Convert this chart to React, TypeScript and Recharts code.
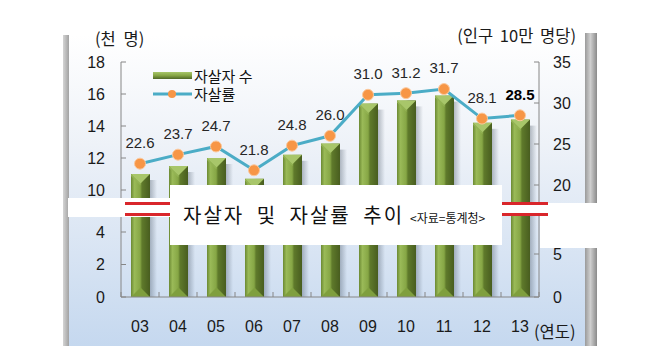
import React from 'react';
import { ComposedChart, Bar, Line, XAxis, YAxis, LabelList, Legend } from 'recharts';

// 자살자 및 자살률 추이 (2003~2013)
const years = ['03', '04', '05', '06', '07', '08', '09', '10', '11', '12', '13'];
const suicides = [11.0, 11.5, 12.0, 10.7, 12.2, 12.9, 15.4, 15.6, 15.9, 14.2, 14.4]; // 천 명
const rates = [22.6, 23.7, 24.7, 21.8, 24.8, 26.0, 31.0, 31.2, 31.7, 28.1, 28.5]; // 인구 10만 명당
const leftTicks = [0, 2, 4, 10, 12, 14, 16, 18];
const rightTicks = [0, 5, 20, 25, 30, 35];

const W = 671;
const H = 357;
const NUM_FONT = '"Liberation Sans", Arial, sans-serif';
const KR_FONT = '"Noto Sans CJK KR", "Noto Sans", sans-serif';
const AXIS = '#868686';
const RED = '#d9262b';

// both y axes are broken: the low part and the high part share one 0..235 range
const makeBreak = (low: number, lowH: number, high: number, highH: number, max: number, maxH: number) =>
  (v: number) => (v <= low ? (v / low) * lowH : highH + ((v - high) / (max - high)) * (maxH - highH));

const leftMap = makeBreak(4, 65, 10, 107, 18, 235);
const rightMap = makeBreak(5, 43, 20, 112, 35, 235);

const rows = years.map((year, i) => ({
  year,
  count: suicides[i],
  rate: rates[i],
  countY: leftMap(suicides[i]),
  rateY: rightMap(rates[i]),
}));

const tickText = (list: number[], map: (v: number) => number, value: number) =>
  list.find((t) => Math.abs(map(t) - value) < 0.01);

const LEFT_MARGIN = 16;
const RIGHT_MARGIN = 14;
const X_MARGIN = 29;
const HALF_BAND = (W - 121 - 132) / years.length / 2;

function LeftTick({ x, y, payload }: any) {
  return (
    <g>
      <line x1={x + LEFT_MARGIN} x2={x + LEFT_MARGIN + 5} y1={y} y2={y} stroke={AXIS} />
      <text x={x} y={y} dy="0.36em" textAnchor="end" fontSize={16} fontFamily={NUM_FONT} fill="#1a1a1a">
        {tickText(leftTicks, leftMap, payload.value)}
      </text>
    </g>
  );
}

function RightTick({ x, y, payload }: any) {
  return (
    <g>
      <line x1={x - RIGHT_MARGIN} x2={x - RIGHT_MARGIN - 5} y1={y} y2={y} stroke={AXIS} />
      <text x={x} y={y} dy="0.36em" textAnchor="start" fontSize={16} fontFamily={NUM_FONT} fill="#1a1a1a">
        {tickText(rightTicks, rightMap, payload.value)}
      </text>
    </g>
  );
}

function YearTick({ x, y, payload, index }: any) {
  const base = y - X_MARGIN;
  return (
    <g>
      <line x1={x - HALF_BAND} x2={x - HALF_BAND} y1={base} y2={base - 5} stroke={AXIS} />
      {index === years.length - 1 && (
        <line x1={x + HALF_BAND} x2={x + HALF_BAND} y1={base} y2={base - 5} stroke={AXIS} />
      )}
      <text x={x} y={y} dy="0.36em" textAnchor="middle" fontSize={16} fontFamily={NUM_FONT} fill="#1a1a1a">
        {payload.value}
      </text>
    </g>
  );
}

function CylinderBar({ x, y, width, height }: any) {
  if (!height || height <= 0) return null;
  const v = Math.min(width / 2, 10);
  return (
    <g>
      <rect x={x + width} y={y + 6} width={7} height={height - 6} fill="url(#barShadow)" />
      <rect x={x} y={y} width={width} height={height} fill="url(#barBody)" />
      <polygon points={`${x},${y} ${x + width},${y} ${x + width / 2},${y + v}`} fill="#a8c66a" />
      <polygon points={`${x},${y} ${x + width / 2},${y + v} ${x + width / 2},${y + v + 2} ${x},${y + 2}`} fill="#93b354" />
      <polygon
        points={`${x},${y + height} ${x + width / 2},${y + height - v} ${x + width},${y + height}`}
        fill="#7f9f3e"
      />
    </g>
  );
}

function RateLabel({ x, y, value, index }: any) {
  const last = index === rates.length - 1;
  return (
    <text
      x={x}
      y={y - 21}
      dy="0.36em"
      textAnchor="middle"
      fontSize={15}
      fontFamily={NUM_FONT}
      fontWeight={last ? 'bold' : 'normal'}
      fill={last ? '#000' : '#262626'}
    >
      {Number(value).toFixed(1)}
    </text>
  );
}

function LegendBox() {
  const row: React.CSSProperties = { display: 'flex', alignItems: 'center', height: 18 };
  const label: React.CSSProperties = { display: 'inline-block', height: 16, lineHeight: '16px', overflow: 'visible' };
  return (
    <div style={{ fontFamily: KR_FONT, fontSize: 15, color: '#111' }}>
      <div style={row}>
        <svg width={42} height={12}>
          <defs>
            <linearGradient id="legendBar" x1="0" y1="0" x2="0" y2="1">
              <stop offset="0%" stopColor="#a8c66a" />
              <stop offset="50%" stopColor="#86a544" />
              <stop offset="100%" stopColor="#4f6626" />
            </linearGradient>
          </defs>
          <rect x={1} y={2} width={39} height={7} fill="url(#legendBar)" />
        </svg>
        <span style={label}>자살자 수</span>
      </div>
      <div style={row}>
        <svg width={42} height={12}>
          <line x1={1} x2={40} y1={6} y2={6} stroke="#4bacc6" strokeWidth={3} />
          <circle cx={20} cy={6} r={4} fill="#f79646" />
        </svg>
        <span style={label}>자살률</span>
      </div>
    </div>
  );
}

const abs = (left: number, top: number, width: number, height: number, extra: React.CSSProperties = {}) =>
  ({ position: 'absolute', left, top, width, height, ...extra }) as React.CSSProperties;

export default function App() {
  return (
    <div style={{ position: 'absolute', left: 0, top: 0, width: W, height: H, background: '#fff', overflow: 'hidden' }}>
      {/* panel */}
      <div style={abs(69, 35, 516, 311, { background: 'linear-gradient(180deg, #ffffff 0%, #eef2f8 35%, #c5d8ef 100%)' })} />
      <div style={abs(63, 35, 6, 311, { background: 'linear-gradient(90deg, #d4d4d4, #a2a2a2)' })} />
      <div style={abs(585, 33, 12, 313, { background: 'linear-gradient(90deg, #9a9a9a, #cfcfcf 45%, #8a8a8a)' })} />

      <div style={abs(0, 0, W, H)}>
        <ComposedChart width={W} height={H} data={rows} margin={{ top: 62, right: 82, bottom: 30, left: 71 }}>
          <defs>
            <linearGradient id="barBody" x1="0" y1="0" x2="1" y2="0">
              <stop offset="0%" stopColor="#6b8933" />
              <stop offset="18%" stopColor="#9aba58" />
              <stop offset="48%" stopColor="#86a645" />
              <stop offset="58%" stopColor="#5f7a2b" />
              <stop offset="100%" stopColor="#485d1f" />
            </linearGradient>
            <linearGradient id="barShadow" x1="0" y1="0" x2="1" y2="0">
              <stop offset="0%" stopColor="#3c4a5a" stopOpacity={0.35} />
              <stop offset="100%" stopColor="#3c4a5a" stopOpacity={0} />
            </linearGradient>
          </defs>
          <XAxis
            dataKey="year"
            height={30}
            axisLine={{ stroke: AXIS }}
            tickLine={false}
            tickSize={0}
            tickMargin={X_MARGIN}
            interval={0}
            tick={YearTick}
          />
          <YAxis
            yAxisId="left"
            width={50}
            type="number"
            domain={[0, 235]}
            ticks={leftTicks.map(leftMap)}
            interval={0}
            axisLine={{ stroke: AXIS }}
            tickLine={false}
            tickSize={0}
            tickMargin={LEFT_MARGIN}
            tick={LeftTick}
          />
          <YAxis
            yAxisId="right"
            orientation="right"
            width={50}
            type="number"
            domain={[0, 235]}
            ticks={rightTicks.map(rightMap)}
            interval={0}
            axisLine={{ stroke: AXIS }}
            tickLine={false}
            tickSize={0}
            tickMargin={RIGHT_MARGIN}
            tick={RightTick}
          />
          <Legend
            layout="vertical"
            align="center"
            verticalAlign="middle"
            wrapperStyle={{ left: 152, top: 67, width: 150 }}
            content={LegendBox}
          />
          <Bar
            yAxisId="left"
            dataKey="countY"
            name="자살자 수"
            barSize={19}
            shape={CylinderBar}
            isAnimationActive={false}
          />
          <Line
            yAxisId="right"
            type="linear"
            dataKey="rateY"
            name="자살률"
            stroke="#4bacc6"
            strokeWidth={3}
            dot={{ r: 5.5, fill: '#f79646', stroke: '#fbc89c', strokeWidth: 1 }}
            activeDot={false}
            isAnimationActive={false}
          >
            <LabelList dataKey="rate" content={RateLabel} />
          </Line>
        </ComposedChart>
      </div>

      {/* axis titles */}
      <div style={abs(95, 26, 80, 24, { fontFamily: KR_FONT, fontSize: 16.5, color: '#1a1a1a', lineHeight: '24px', whiteSpace: 'nowrap', wordSpacing: 4 })}>
        (천 명)
      </div>
      <div style={abs(400, 23, 176, 24, { fontFamily: KR_FONT, fontSize: 16.5, color: '#1a1a1a', lineHeight: '24px', textAlign: 'right', whiteSpace: 'nowrap', wordSpacing: 3 })}>
        (인구 10만 명당)
      </div>
      <div style={abs(534, 319, 60, 24, { fontFamily: KR_FONT, fontSize: 16.5, color: '#1a1a1a', lineHeight: '24px', whiteSpace: 'nowrap' })}>
        (연도)
      </div>

      {/* axis break */}
      <div style={abs(68, 198, 102, 19, { background: '#fff' })} />
      <div style={abs(125, 202, 45, 3, { background: RED })} />
      <div style={abs(125, 213, 45, 3, { background: RED })} />
      <div style={abs(500, 203, 40, 12, { background: '#fff' })} />
      <div style={abs(540, 203, 68, 45, { background: '#fff' })} />
      <div style={abs(500, 202, 48, 3, { background: RED })} />
      <div style={abs(500, 213, 48, 3, { background: RED })} />
      <div style={abs(170, 185, 332, 60, { background: '#fff' })}>
        <div style={abs(13, 17, 320, 26, { fontFamily: KR_FONT, color: '#111', lineHeight: '26px', whiteSpace: 'nowrap' })}>
          <span style={{ fontSize: 20, letterSpacing: 2, wordSpacing: 6 }}>자살자 및 자살률 추이</span>
          <span style={{ fontSize: 12, marginLeft: 6 }}>&lt;자료=통계청&gt;</span>
        </div>
      </div>
    </div>
  );
}
